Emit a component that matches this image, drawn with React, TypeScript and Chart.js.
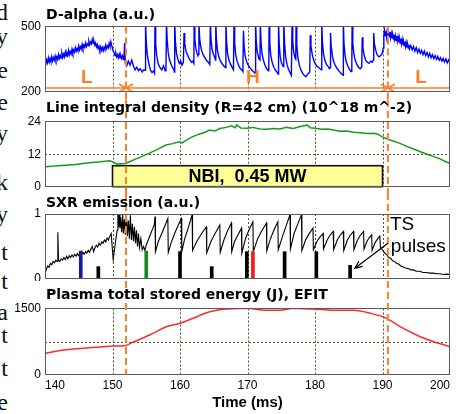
import React, { useEffect, useRef } from "react";
import { Chart, registerables } from "chart.js";

Chart.register(...registerables);

// ---------------- data ----------------
const timeTicks = [140, 150, 160, 170, 180, 190, 200];
const gridTimes = [150, 160, 170, 180, 190];
const transitionTimes = [152, 190.8];
const nbiStart = 150;
const nbiEnd = 190;
const nbiLevel = 7.75;
const nbiLabel = "NBI,  0.45 MW";
const panelTitles = [
  "D-alpha (a.u.)",
  "Line integral density (R=42 cm) (10^18 m^-2)",
  "SXR emission (a.u.)",
  "Plasma total stored energy (J), EFIT",
];
const xTitle = "Time (ms)";
const dalphaTicks = [200, 500];
const densityTicks = [0, 12, 24];
const sxrTicks = [0, 1];
const energyTicks = [0, 1500];
const phaseLabels: [string, number][] = [["L", 146.2], ["H", 170.8], ["L", 195.7]];
const phaseArrowLevel = 216;
const phaseLabelLevel = 262;

const dalphaPoints: [number, number][] = [
  [140.0, 350], [140.125, 328], [140.25, 346], [140.375, 332], [140.5, 355], [140.625, 336], [140.75, 352], [140.875, 338],
  [141.0, 360], [141.125, 341], [141.25, 356], [141.375, 344], [141.5, 364], [141.625, 346], [141.75, 360], [141.875, 348],
  [142.0, 370], [142.125, 352], [142.25, 366], [142.375, 354], [142.5, 376], [142.625, 358], [142.75, 372], [142.875, 360],
  [143.0, 382], [143.125, 364], [143.25, 378], [143.375, 366], [143.5, 390], [143.625, 370], [143.75, 384], [143.875, 374],
  [144.0, 396], [144.125, 378], [144.25, 392], [144.375, 382], [144.5, 402], [144.625, 386], [144.75, 398], [144.875, 388],
  [145.0, 410], [145.125, 392], [145.25, 406], [145.375, 396], [145.5, 418], [145.625, 400], [145.75, 414], [145.875, 404],
  [146.0, 424], [146.125, 408], [146.25, 420], [146.375, 412], [146.5, 432], [146.625, 416], [146.75, 428], [146.875, 420],
  [147.0, 440], [147.125, 422], [147.25, 432], [147.375, 414], [147.5, 424], [147.625, 406], [147.75, 416], [147.875, 398],
  [148.0, 408], [148.125, 392], [148.25, 406], [148.375, 390], [148.5, 402], [148.625, 388], [148.75, 404], [148.875, 394],
  [149.0, 414], [149.125, 398], [149.25, 410], [149.375, 402], [149.5, 422], [149.625, 408], [149.75, 430], [149.875, 414],
  [150.0, 398], [150.125, 384], [150.25, 380], [150.375, 366], [150.5, 376], [150.625, 360], [150.75, 370], [150.875, 356],
  [151.0, 372], [151.125, 356], [151.25, 366], [151.375, 352], [151.5, 364], [151.625, 348], [151.7, 356],
  [151.8, 424], [151.9, 330], [152.1, 318], [152.35, 340], [152.6, 322], [152.85, 345], [153.1, 318], [153.35, 300],
  [153.6, 312], [153.85, 296], [154.1, 305], [154.4, 290], [154.6, 300], [154.82, 298],
  [154.9, 520], [155.0, 430], [155.15, 370], [155.35, 335], [155.6, 300], [155.85, 288], [156.1, 295], [156.22, 285],
  [156.3, 520], [156.4, 420], [156.55, 365], [156.75, 330], [157.0, 312], [157.3, 300], [157.55, 318], [157.8, 296], [157.92, 305],
  [158.0, 520], [158.1, 440], [158.25, 380], [158.45, 345], [158.7, 325], [158.9, 310], [159.1, 302], [159.15, 290],
  [159.22, 520], [159.32, 430], [159.5, 372], [159.7, 348], [159.9, 330], [160.1, 340], [160.3, 322], [160.5, 335],
  [160.6, 470], [160.7, 420], [160.9, 385], [161.1, 370], [161.3, 355], [161.5, 345], [161.7, 335], [161.9, 340], [162.05, 330],
  [162.1, 520], [162.2, 440], [162.35, 400], [162.5, 380], [162.65, 365], [162.75, 372],
  [162.8, 520], [162.9, 450], [163.05, 410], [163.25, 385], [163.45, 368], [163.7, 355], [163.95, 342], [164.2, 335], [164.42, 325],
  [164.5, 520], [164.6, 440], [164.75, 395], [164.95, 372], [165.15, 358], [165.25, 345],
  [165.3, 520], [165.4, 440], [165.55, 390], [165.75, 360], [166.0, 340], [166.25, 328], [166.5, 318], [166.72, 310],
  [166.8, 520], [166.9, 430], [167.05, 375], [167.25, 345], [167.5, 325], [167.75, 310], [167.92, 300],
  [168.0, 520], [168.1, 425], [168.25, 370], [168.45, 340], [168.7, 320], [168.95, 305], [169.2, 298], [169.32, 292],
  [169.4, 480], [169.5, 410], [169.65, 365], [169.85, 340], [170.1, 322], [170.35, 310], [170.6, 300], [170.85, 292], [171.1, 285], [171.15, 290],
  [171.2, 520], [171.3, 430], [171.45, 380], [171.7, 350], [171.85, 345],
  [171.9, 520], [172.0, 430], [172.15, 375], [172.35, 345], [172.6, 320], [172.85, 305], [173.1, 295], [173.15, 300],
  [173.2, 520], [173.3, 425], [173.45, 365], [173.65, 335], [173.9, 312], [174.15, 298], [174.4, 288], [174.52, 280],
  [174.6, 520], [174.7, 420], [174.85, 360], [175.05, 330], [175.3, 315], [175.35, 320],
  [175.4, 520], [175.5, 420], [175.65, 360], [175.85, 325], [176.1, 300], [176.35, 285], [176.5, 275],
  [176.6, 520], [176.7, 430], [176.85, 380], [177.05, 355], [177.15, 350],
  [177.2, 520], [177.3, 420], [177.45, 360], [177.65, 325], [177.9, 300], [178.15, 285], [178.4, 275], [178.65, 268], [178.9, 280], [179.1, 285], [179.22, 290],
  [179.3, 460], [179.4, 410], [179.6, 370], [179.8, 345], [180.0, 330], [180.25, 318], [180.5, 312], [180.75, 305], [180.92, 300],
  [181.0, 520], [181.1, 430], [181.25, 375], [181.45, 345], [181.7, 325], [181.95, 315], [182.15, 305], [182.25, 310],
  [182.3, 470], [182.4, 410], [182.6, 360], [182.8, 335], [183.05, 318], [183.3, 305], [183.55, 295], [183.8, 285], [184.05, 278], [184.15, 275],
  [184.2, 520], [184.3, 420], [184.45, 365], [184.65, 335], [184.9, 315], [185.15, 300], [185.35, 292], [185.45, 300],
  [185.5, 520], [185.6, 425], [185.75, 375], [185.95, 345], [186.2, 325], [186.45, 312], [186.7, 305], [186.92, 312],
  [187.0, 450], [187.1, 400], [187.3, 365], [187.5, 345], [187.75, 335], [188.0, 330], [188.25, 340], [188.5, 335], [188.62, 345],
  [188.7, 470], [188.8, 420], [189.0, 390], [189.2, 370], [189.45, 360], [189.7, 365], [189.95, 375], [190.1, 400],
  [190.2, 455], [190.3, 482], [190.4, 458], [190.5, 478], [190.6, 452], [190.7, 488], [190.8, 460], [190.9, 476],
  [191.0, 452], [191.1, 474], [191.2, 448], [191.3, 468], [191.4, 446], [191.5, 466], [191.6, 442], [191.7, 462],
  [191.8, 440], [191.9, 458], [192.0, 436], [192.1, 456], [192.2, 432], [192.3, 452], [192.4, 428], [192.5, 448],
  [192.6, 424], [192.7, 444], [192.8, 420], [192.9, 440], [193.0, 416], [193.1, 434], [193.2, 412], [193.3, 430],
  [193.4, 408], [193.5, 426], [193.6, 404], [193.7, 422], [193.8, 400], [193.9, 416], [194.0, 396], [194.2, 412],
  [194.4, 392], [194.6, 408], [194.8, 386], [195.0, 402], [195.2, 380], [195.4, 396], [195.6, 376], [195.8, 390],
  [196.0, 370], [196.2, 386], [196.4, 366], [196.6, 380], [196.8, 360], [197.0, 376], [197.2, 356], [197.4, 370],
  [197.6, 352], [197.8, 366], [198.0, 348], [198.2, 362], [198.4, 344], [198.6, 356], [198.8, 340], [199.0, 352],
  [199.2, 336], [199.4, 350], [199.6, 332], [199.8, 346], [200.0, 334],
];

const densityPoints: [number, number][] = [
  [140, 7.4], [141.5, 7.6], [143, 7.9], [144.5, 8.2], [145.6, 8.6], [147, 8.9], [148.3, 9.2], [149.6, 9.6],
  [150.2, 9.0], [150.6, 8.4], [151.9, 8.6], [152.6, 9.3], [153.4, 10.2], [154.4, 11.2], [155.4, 12.3], [156.6, 13.7],
  [157.9, 15.4], [158.9, 15.9], [159.9, 16.6], [160.3, 16.2], [161.2, 17.6], [161.9, 18.5], [162.8, 19.4], [163.6, 20.0],
  [164.4, 20.9], [165.2, 20.6], [165.9, 21.5], [166.9, 21.9], [167.6, 22.5], [168.2, 21.8], [168.4, 22.8], [169.0, 21.7],
  [169.9, 21.6], [170.8, 21.9], [171.8, 21.3], [172.8, 21.2], [173.8, 21.5], [174.8, 21.3], [175.8, 21.9], [176.8, 21.5],
  [177.8, 22.2], [178.6, 22.6], [178.8, 22.8], [179.3, 21.8], [180.0, 21.6], [181.0, 21.2], [182.0, 21.3], [182.7, 20.9],
  [183.7, 20.5], [184.7, 20.6], [185.7, 20.1], [186.7, 19.9], [187.7, 19.6], [188.7, 19.7], [189.3, 19.4], [189.9, 18.5],
  [190.8, 17.5], [191.7, 16.8], [192.6, 16.0], [193.6, 14.9], [194.6, 13.9], [195.6, 12.9], [196.6, 12.0], [197.6, 11.1],
  [198.6, 10.2], [199.3, 9.3], [200, 8.6],
];

const sxrPoints: [number, number][] = [
  [140.0, 0.08], [140.2, 0.15], [140.4, 0.2], [140.6, 0.18], [140.8, 0.24], [141.0, 0.22], [141.2, 0.27], [141.4, 0.25],
  [141.6, 0.29], [141.8, 0.27], [141.9, 0.72], [142.0, 0.3], [142.2, 0.27], [142.4, 0.31], [142.6, 0.29], [142.8, 0.33],
  [143.0, 0.3], [143.2, 0.35], [143.4, 0.31], [143.6, 0.36], [143.8, 0.33], [144.0, 0.37], [144.2, 0.34], [144.4, 0.38],
  [144.6, 0.35], [144.8, 0.39], [145.0, 0.36], [145.2, 0.4], [145.4, 0.37], [145.6, 0.41], [145.8, 0.38], [146.0, 0.42],
  [146.2, 0.4], [146.4, 0.44], [146.6, 0.41], [146.8, 0.46], [147.0, 0.5], [147.2, 0.42], [147.4, 0.48], [147.6, 0.52],
  [147.8, 0.49], [148.0, 0.55], [148.2, 0.52], [148.4, 0.57], [148.6, 0.55], [148.8, 0.6], [149.0, 0.57], [149.2, 0.63],
  [149.4, 0.6], [149.6, 0.66], [149.8, 0.7], [149.95, 0.5], [150.1, 0.3], [150.3, 0.45], [150.5, 0.62], [150.7, 0.75],
  [150.8, 1.0], [150.9, 0.8], [151.0, 1.0], [151.1, 0.78], [151.2, 0.95], [151.35, 0.72], [151.5, 1.0], [151.6, 0.7],
  [151.75, 0.92], [151.9, 0.68], [152.05, 1.0], [152.2, 0.66], [152.35, 0.9], [152.5, 0.62], [152.65, 0.98], [152.8, 0.6],
  [152.95, 0.85], [153.1, 0.58], [153.25, 0.8], [153.4, 0.55], [153.55, 0.75], [153.7, 0.5], [153.85, 0.7], [154.0, 0.48],
  [154.2, 0.62], [154.4, 0.45], [154.6, 0.5], [154.8, 0.44], [155.0, 0.52], [155.3, 0.6], [155.6, 0.68], [155.9, 0.76],
  [156.2, 0.84], [156.3, 0.96], [156.36, 0.42], [156.8, 0.58], [157.3, 0.7], [157.7, 0.8], [158.2, 0.93], [158.26, 0.41],
  [158.7, 0.56], [159.2, 0.7], [159.7, 0.82], [160.2, 0.93], [160.26, 0.42], [160.7, 0.62], [161.2, 0.78], [161.8, 0.99],
  [161.86, 0.44], [162.5, 0.58], [163.2, 0.7], [163.9, 0.8], [163.96, 0.4], [164.6, 0.58], [165.2, 0.7], [165.9, 0.83],
  [165.96, 0.41], [166.5, 0.6], [167.0, 0.73], [167.6, 0.86], [167.66, 0.42], [168.1, 0.58], [168.6, 0.68], [169.1, 0.78],
  [169.16, 0.4], [169.7, 0.62], [170.2, 0.75], [170.8, 0.88], [170.86, 0.42], [171.5, 0.62], [172.1, 0.74], [172.8, 0.86],
  [172.86, 0.43], [173.4, 0.62], [173.9, 0.75], [174.5, 0.88], [174.56, 0.45], [175.2, 0.66], [175.8, 0.84], [176.3, 0.99],
  [176.36, 0.46], [176.9, 0.7], [177.5, 0.86], [178.0, 0.99], [178.06, 0.44], [178.6, 0.6], [179.1, 0.69], [179.7, 0.78],
  [179.76, 0.45], [180.3, 0.58], [180.7, 0.64], [181.2, 0.7], [181.26, 0.46], [181.8, 0.6], [182.2, 0.67], [182.7, 0.73],
  [182.76, 0.45], [183.3, 0.6], [183.7, 0.67], [184.2, 0.73], [184.26, 0.44], [184.8, 0.6], [185.2, 0.67], [185.7, 0.73],
  [185.76, 0.45], [186.3, 0.6], [186.7, 0.67], [187.2, 0.73], [187.26, 0.46], [187.7, 0.58], [188.0, 0.63], [188.4, 0.68],
  [188.46, 0.44], [188.9, 0.56], [189.3, 0.62], [189.6, 0.66], [189.7, 0.48], [190.0, 0.45], [190.3, 0.4], [190.6, 0.38],
  [190.9, 0.33], [191.2, 0.32], [191.5, 0.28], [191.8, 0.27], [192.1, 0.24], [192.4, 0.23], [192.7, 0.2], [193.0, 0.19],
  [193.4, 0.17], [193.8, 0.16], [194.2, 0.14], [194.6, 0.14], [195.0, 0.12], [195.5, 0.12], [196.0, 0.1], [196.5, 0.1],
  [197.0, 0.09], [197.5, 0.09], [198.0, 0.08], [198.5, 0.08], [199.0, 0.07], [199.5, 0.075], [200.0, 0.07],
];

const tsTimes = [145.3, 147.9, 155.0, 160.0, 164.7, 169.9, 170.8, 175.5, 180.2, 185.2];
const tsHeights = [0.43, 0.19, 0.43, 0.42, 0.19, 0.42, 0.42, 0.42, 0.42, 0.21];
const tsColors = ["#1a1a9a", "#000000", "#1a8a1a", "#000000", "#000000", "#000000", "#ff1a1a", "#000000", "#000000", "#000000"];
const tsLabel = ["TS", "pulses"];

const energyPoints: [number, number][] = [
  [140, 482], [142, 540], [145.6, 595], [148, 625], [150.1, 648], [151.8, 655], [153.0, 732], [155.5, 898],
  [158.0, 1086], [160.0, 1164], [161.9, 1277], [164.4, 1427], [166.9, 1489], [169.9, 1505], [172.8, 1459], [174.8, 1459],
  [176.8, 1505], [179.7, 1489], [182.7, 1459], [185.7, 1459], [188.2, 1391], [190.6, 1277], [192.6, 1086], [195.6, 859],
  [197.6, 745], [200, 632],
];

const marginLetters: [string, number][] = [
  ["d", 12], ["y", 36], ["e", 70], ["e", 102], ["y", 133], ["k", 182], ["y", 214],
  ["t", 252], ["t", 281], ["a", 312], ["t", 335], ["t", 368], ["e", 402],
];

// ---------------- styling ----------------
const W = 456;
const PLOT_RIGHT = 450;
const Y_AXIS_W = 45;
const ORANGE = "#ff7f27";
const GRID_COLOR = "#55552b";
const FRAME_COLOR = "#5a5a5a";
const TITLE_FONT = 'bold 14px "DejaVu Sans"';
const TICK_FONT = { family: "Liberation Sans", size: 12 };

type Spec = {
  key: string;
  top: number;
  height: number;
  boxTop: number;
  boxBottom: number;
  titleY: number;
  title: string;
  yMin: number;
  yMax: number;
  yTicks: number[];
  hGrid: number[];
  showX: boolean;
  lineFromBox: boolean;
  lineToBox: boolean;
  datasets: any[];
  overlay?: (c: any) => void;
  annotate?: (c: any) => void;
};

const toXY = (pts: [number, number][]) => pts.map(([x, y]) => ({ x, y }));

function drawPhaseArrows(chart: any) {
  const { ctx, chartArea: a } = chart;
  const x = chart.scales.x;
  const y = chart.scales.y;
  const py = y.getPixelForValue(phaseArrowLevel);
  ctx.save();
  ctx.strokeStyle = ORANGE;
  ctx.lineWidth = 1.6;
  ctx.beginPath();
  ctx.moveTo(a.left, py);
  ctx.lineTo(a.right, py);
  for (const t of transitionTimes) {
    const px = x.getPixelForValue(t);
    ctx.moveTo(px - 7, py - 4);
    ctx.lineTo(px, py);
    ctx.lineTo(px - 7, py + 4);
    ctx.moveTo(px + 7, py - 4);
    ctx.lineTo(px, py);
    ctx.lineTo(px + 7, py + 4);
  }
  ctx.stroke();
  ctx.fillStyle = ORANGE;
  ctx.font = 'bold 19px "Liberation Sans"';
  ctx.textAlign = "center";
  ctx.textBaseline = "middle";
  for (const [s, t] of phaseLabels) {
    ctx.fillText(s, x.getPixelForValue(t), y.getPixelForValue(phaseLabelLevel));
  }
  ctx.restore();
}

function drawNbi(chart: any) {
  const { ctx } = chart;
  const x = chart.scales.x;
  const y = chart.scales.y;
  const x0 = x.getPixelForValue(nbiStart);
  const x1 = x.getPixelForValue(nbiEnd);
  const y0 = y.getPixelForValue(nbiLevel);
  const y1 = y.getPixelForValue(0);
  ctx.save();
  ctx.fillStyle = "#ffff99";
  ctx.fillRect(x0, y0, x1 - x0, y1 - y0);
  ctx.strokeStyle = "#111";
  ctx.lineWidth = 1.6;
  ctx.strokeRect(x0, y0, x1 - x0, y1 - y0);
  ctx.fillStyle = "#000";
  ctx.font = 'bold 18px "Liberation Sans"';
  ctx.textAlign = "center";
  ctx.textBaseline = "middle";
  ctx.fillText(nbiLabel, (x0 + x1) / 2, (y0 + y1) / 2 + 1);
  ctx.restore();
}

function drawTsNote(chart: any) {
  const { ctx } = chart;
  const x = chart.scales.x;
  const y = chart.scales.y;
  ctx.save();
  ctx.fillStyle = "#000";
  ctx.font = '19px "Liberation Sans"';
  ctx.textAlign = "center";
  ctx.textBaseline = "middle";
  ctx.fillText(tsLabel[0], x.getPixelForValue(192.9), y.getPixelForValue(0.83));
  ctx.fillText(tsLabel[1], x.getPixelForValue(195.3), y.getPixelForValue(0.5));
  const sx = x.getPixelForValue(190.8), sy = y.getPixelForValue(0.55);
  const ex = x.getPixelForValue(185.9), ey = y.getPixelForValue(0.165);
  const ang = Math.atan2(ey - sy, ex - sx);
  ctx.strokeStyle = "#000";
  ctx.lineWidth = 1.2;
  ctx.beginPath();
  ctx.moveTo(sx, sy);
  ctx.lineTo(ex, ey);
  ctx.moveTo(ex - 8 * Math.cos(ang - 0.4), ey - 8 * Math.sin(ang - 0.4));
  ctx.lineTo(ex, ey);
  ctx.lineTo(ex - 8 * Math.cos(ang + 0.4), ey - 8 * Math.sin(ang + 0.4));
  ctx.stroke();
  ctx.restore();
}

function drawTimeTitle(chart: any) {
  const { ctx, chartArea: a } = chart;
  ctx.save();
  ctx.fillStyle = "#000";
  ctx.font = 'bold 15px "Liberation Sans"';
  ctx.textAlign = "center";
  ctx.textBaseline = "middle";
  ctx.fillText(xTitle, (a.left + a.right) / 2, 122);
  ctx.restore();
}

function panelPlugin(spec: Spec) {
  return {
    id: "decor" + spec.key,
    beforeDatasetsDraw(chart: any) {
      const { ctx, chartArea: a } = chart;
      const x = chart.scales.x;
      const y = chart.scales.y;
      ctx.save();
      ctx.strokeStyle = GRID_COLOR;
      ctx.lineWidth = 1;
      ctx.setLineDash([2, 2]);
      ctx.beginPath();
      for (const t of gridTimes) {
        const px = Math.round(x.getPixelForValue(t)) + 0.5;
        ctx.moveTo(px, a.top);
        ctx.lineTo(px, a.bottom);
      }
      for (const v of spec.hGrid) {
        const py = Math.round(y.getPixelForValue(v)) + 0.5;
        ctx.moveTo(a.left, py);
        ctx.lineTo(a.right, py);
      }
      ctx.stroke();
      ctx.restore();
    },
    afterDatasetsDraw(chart: any) {
      if (spec.overlay) spec.overlay(chart);
    },
    afterDraw(chart: any) {
      const { ctx, chartArea: a } = chart;
      const x = chart.scales.x;
      ctx.save();
      ctx.strokeStyle = FRAME_COLOR;
      ctx.lineWidth = 1;
      ctx.setLineDash([]);
      const l = Math.floor(a.left) + 0.5;
      const r = Math.ceil(a.right) - 0.5;
      const t = Math.floor(a.top) + 0.5;
      const b = Math.ceil(a.bottom) - 0.5;
      ctx.strokeRect(l, t, r - l, b - t);
      ctx.strokeStyle = ORANGE;
      ctx.lineWidth = 2;
      ctx.setLineDash([7, 4]);
      const y0 = spec.lineFromBox ? a.top : 0;
      const y1 = spec.lineToBox ? a.bottom : chart.height;
      ctx.beginPath();
      for (const tt of transitionTimes) {
        const px = x.getPixelForValue(tt);
        ctx.moveTo(px, y0);
        ctx.lineTo(px, y1);
      }
      ctx.stroke();
      ctx.setLineDash([]);
      ctx.fillStyle = "#000";
      ctx.font = TITLE_FONT;
      ctx.textAlign = "left";
      ctx.textBaseline = "middle";
      ctx.fillText(spec.title, a.left + 1, spec.titleY);
      if (spec.annotate) spec.annotate(chart);
      ctx.restore();
    },
  };
}

function buildConfig(spec: Spec): any {
  const xScale: any = spec.showX
    ? {
        type: "linear",
        offset: false,
        min: timeTicks[0],
        max: timeTicks[timeTicks.length - 1],
        afterBuildTicks: (s: any) => {
          s.ticks = timeTicks.map((v) => ({ value: v }));
        },
        afterFit: (s: any) => {
          s.height = spec.height - spec.boxBottom;
          s.paddingLeft = 0;
          s.paddingRight = 0;
        },
        grid: { display: false, drawTicks: false, offset: false },
        border: { display: false },
        ticks: { font: TICK_FONT, color: "#000", padding: 4, align: "inner", maxRotation: 0, autoSkip: false },
      }
    : {
        type: "linear",
        offset: false,
        grid: { offset: false },
        min: timeTicks[0],
        max: timeTicks[timeTicks.length - 1],
        display: false,
      };
  return {
    type: "line",
    data: { datasets: spec.datasets },
    options: {
      responsive: false,
      maintainAspectRatio: false,
      animation: false,
      devicePixelRatio: 1,
      events: [],
      layout: {
        padding: {
          top: spec.boxTop,
          bottom: spec.showX ? 0 : spec.height - spec.boxBottom,
          left: 0,
          right: W - PLOT_RIGHT,
        },
      },
      plugins: { legend: { display: false }, tooltip: { enabled: false }, title: { display: false } },
      elements: { point: { radius: 0 }, line: { tension: 0 } },
      scales: {
        x: xScale,
        y: {
          type: "linear",
          min: spec.yMin,
          max: spec.yMax,
          beginAtZero: false,
          afterBuildTicks: (s: any) => {
            s.ticks = spec.yTicks.map((v) => ({ value: v }));
          },
          afterFit: (s: any) => {
            s.width = Y_AXIS_W;
            s.paddingTop = 0;
            s.paddingBottom = 0;
          },
          grid: { display: false, drawTicks: false },
          border: { display: false },
          ticks: { font: TICK_FONT, color: "#000", padding: 4, callback: (v: any) => String(v) },
        },
      },
    },
    plugins: [panelPlugin(spec)],
  };
}

const specs: Spec[] = [
  {
    key: "dalpha", top: 0, height: 100, boxTop: 26.5, boxBottom: 91.5, titleY: 15, title: panelTitles[0],
    yMin: 200, yMax: 500, yTicks: dalphaTicks, hGrid: [], showX: false, lineFromBox: true, lineToBox: false,
    datasets: [{ data: toXY(dalphaPoints), borderColor: "#0000ff", borderWidth: 1.4, pointRadius: 0, fill: false }],
    overlay: drawPhaseArrows,
  },
  {
    key: "density", top: 100, height: 93, boxTop: 21.7, boxBottom: 86.7, titleY: 8.3, title: panelTitles[1],
    yMin: 0, yMax: 24, yTicks: densityTicks, hGrid: [12], showX: false, lineFromBox: false, lineToBox: false,
    datasets: [{ data: toXY(densityPoints), borderColor: "#1a9a1a", borderWidth: 1.5, pointRadius: 0, fill: false }],
    overlay: drawNbi,
  },
  {
    key: "sxr", top: 193, height: 88, boxTop: 21, boxBottom: 86, titleY: 10.3, title: panelTitles[2],
    yMin: 0, yMax: 1, yTicks: sxrTicks, hGrid: [], showX: false, lineFromBox: false, lineToBox: false,
    datasets: [
      {
        type: "bar",
        data: tsTimes.map((t, i) => ({ x: t, y: tsHeights[i] })),
        backgroundColor: tsColors,
        borderWidth: 0,
        barThickness: 3,
      },
      { type: "line", data: toXY(sxrPoints), borderColor: "#000000", borderWidth: 1.1, pointRadius: 0, fill: false },
    ],
    annotate: drawTsNote,
  },
  {
    key: "energy", top: 281, height: 133, boxTop: 27.5, boxBottom: 93.5, titleY: 14, title: panelTitles[3],
    yMin: 0, yMax: 1500, yTicks: energyTicks, hGrid: [750], showX: true, lineFromBox: false, lineToBox: true,
    datasets: [
      {
        data: toXY(energyPoints), borderColor: "#ff2a2a", borderWidth: 1.5, pointRadius: 0, fill: false,
        cubicInterpolationMode: "monotone",
      },
    ],
    annotate: drawTimeTitle,
  },
];

function Panel({ spec }: { spec: Spec }) {
  const ref = useRef<HTMLCanvasElement>(null);
  useEffect(() => {
    const chart = new Chart(ref.current as HTMLCanvasElement, buildConfig(spec));
    return () => chart.destroy();
  }, [spec]);
  return (
    <canvas
      ref={ref}
      width={W}
      height={spec.height}
      style={{ position: "absolute", left: 0, top: spec.top, width: W, height: spec.height, display: "block" }}
    />
  );
}

export default function App() {
  return (
    <div style={{ position: "absolute", left: 0, top: 0, width: W, height: 414, background: "#fff", overflow: "hidden" }}>
      <div style={{ position: "absolute", left: 0, top: 0, width: 8, height: 414, overflow: "hidden" }}>
        {marginLetters.map(([ch, yc], i) => (
          <div
            key={i}
            style={{
              position: "absolute",
              right: 0,
              top: yc - 14,
              fontFamily: '"Liberation Serif", serif',
              fontSize: 24,
              lineHeight: "28px",
              color: "#111",
            }}
          >
            {ch}
          </div>
        ))}
      </div>
      {specs.map((s) => (
        <Panel key={s.key} spec={s} />
      ))}
    </div>
  );
}
